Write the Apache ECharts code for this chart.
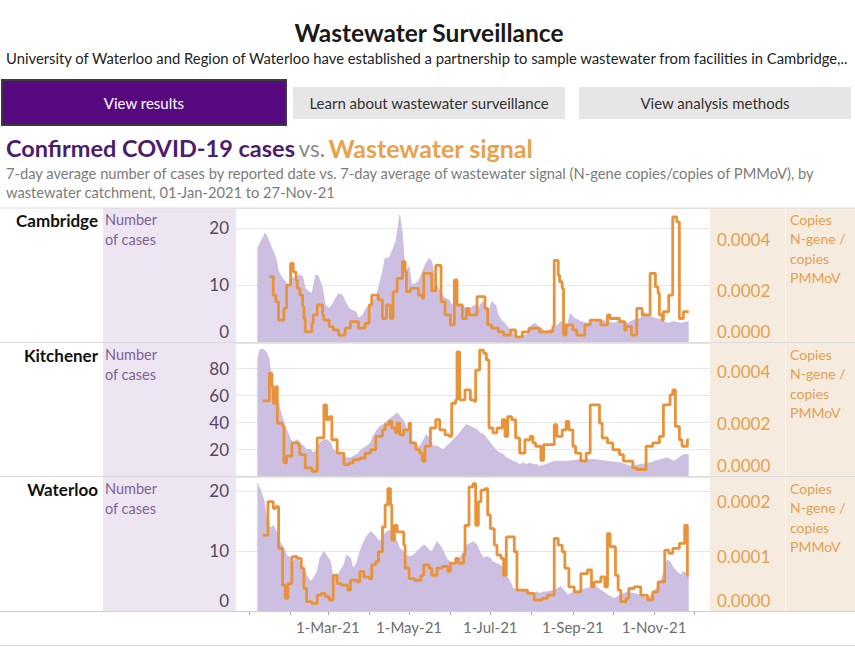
<!DOCTYPE html>
<html><head><meta charset="utf-8">
<script src="https://cdn.jsdelivr.net/npm/echarts@6/dist/echarts.min.js"></script>
<style>html,body{margin:0;padding:0;background:#fff}#c{width:855px;height:647px}</style>
</head><body><div id="c"></div>
<script>
// ---- data: [day of 2021 (0 = 1 Jan), value] ----
const cityNames = ['Cambridge', 'Kitchener', 'Waterloo'];
const monthNames = ['Jan','Feb','Mar','Apr','May','Jun','Jul','Aug','Sep','Oct','Nov','Dec'];
const labelMonths = [2, 4, 6, 8, 10];
const leftTicks = [10, 20, 10];
const rightTicks = [0.0002, 0.0002, 0.0001];

const cambridgeCases = [[6,16.4],[12,19.1],[15,17.6],[17,16.4],[20,14.7],[22,12.3],[25,11.2],[27,10.6],[30,9.7],[32,11.5],[35,10.9],[37,11.8],[40,11.5],[42,9.4],[45,8.8],[47,8.5],[50,11.8],[52,11.5],[55,9.4],[57,6.5],[60,5.9],[62,6.5],[65,7.7],[67,8.5],[70,8.2],[72,7.1],[75,5.9],[77,5.6],[80,5.3],[82,4.2],[85,4.7],[87,5.6],[90,6.5],[92,7.1],[95,7.7],[97,9.4],[100,12.3],[102,14.7],[105,14.7],[107,15.8],[110,17.6],[112,20.5],[113,22.3],[115,18.8],[117,12.3],[120,13.2],[122,10],[125,10.3],[127,10.6],[130,12.3],[132,13.5],[135,14.7],[137,14.1],[140,10.6],[142,9.4],[145,8.2],[147,7.7],[150,7.4],[152,6.5],[155,7.1],[157,6.5],[160,6.5],[162,5.9],[165,5.6],[167,6.2],[170,6.5],[172,5.9],[175,7.1],[177,6.5],[180,5.3],[182,7.1],[185,6.5],[187,4.7],[190,3.6],[192,3.3],[195,2.4],[197,1.8],[200,1.2],[202,0.6],[205,0.9],[207,1.2],[210,1.5],[212,3],[215,3.3],[217,2.6],[220,2.4],[222,1.8],[225,2.1],[229,2.4],[234,3.6],[239,3.0],[241,5.0],[244,4.2],[249,3.6],[254,3.3],[259,3.6],[264,3.9],[269,3.6],[274,3.3],[279,3.9],[284,3.3],[289,3.9],[294,4.2],[296,5.3],[299,4.7],[304,4.2],[309,3.9],[314,3.3],[319,3.6],[324,3.3],[330,3.6]];

// wastewater signal in units of 1e-4 N-gene copies / copies PMMoV
const cambridgeSignal = [[15,2.56],[18,1.83],[20,1.57],[22,0.86],[26,1.32],[28,2.23],[31,3.08],[33,2.75],[35,2.43],[36,2.10],[38,1.85],[40,1.39],[41,0.92],[42,0.4],[47,0.73],[48,1.06],[51,1.45],[55,1.06],[56,0.86],[60,0.6],[63,0.47],[67,0.27],[72,0.54],[76,0.8],[82,0.54],[87,0.73],[90,1.45],[92,1.84],[97,1.65],[100,0.92],[103,1.45],[106,0.92],[108,1.97],[111,2.49],[115,3.15],[117,2.75],[118,1.97],[121,2.10],[127,1.84],[130,1.71],[131,2.69],[137,2.0],[140,3.0],[144,1.58],[147,1.06],[151,0.67],[154,2.43],[156,1.45],[160,0.92],[163,1.32],[165,1.06],[171,1.78],[177,1.32],[179,0.67],[182,0.54],[187,0.4],[191,0.27],[196,0.47],[200,0.2],[205,0.4],[210,0.54],[218,0.4],[228,0.6],[229,3.2],[232,2.62],[233,2.36],[235,2.1],[236,0.27],[238,0.67],[243,0.47],[246,0.27],[252,0.67],[256,0.86],[264,0.67],[269,1.06],[271,0.92],[278,0.8],[282,0.47],[283,0.6],[287,0.27],[291,1.32],[295,1.06],[301,2.69],[305,2.16],[307,1.91],[308,1.06],[310,0.86],[311,1.19],[315,1.84],[318,4.9],[321,4.71],[323,0.92],[326,1.19],[330,1.19]];

const kitchenerCases = [[6,86.6],[8,94],[11,94],[13,91.6],[15,86.6],[16,76.7],[18,66.8],[21,59.3],[23,49.4],[26,39.5],[28,34.6],[31,27.1],[33,24.7],[36,27.1],[38,24.7],[41,22.2],[43,19.7],[46,19.7],[48,17.2],[51,19.7],[53,24.7],[56,27.1],[58,27.1],[61,24.7],[63,19.7],[66,17.2],[68,16],[71,14.7],[73,13.5],[76,13.5],[78,14.7],[81,16],[83,18.5],[86,20.9],[88,22.2],[91,24.7],[93,29.6],[96,34.6],[98,37],[101,38.3],[103,40.8],[106,43.2],[108,44.5],[111,46.9],[113,44.5],[116,40.8],[118,35.8],[121,29.6],[123,24.7],[126,22.2],[128,22.2],[131,27.1],[133,30.9],[136,27.1],[138,22.2],[141,22.2],[143,21],[146,19.7],[148,22.2],[151,24.7],[153,27.1],[156,29.6],[158,32.1],[161,35.8],[163,38.3],[166,37],[168,35.8],[171,34.6],[173,32.1],[176,30.9],[178,28.4],[181,24.7],[183,22.2],[186,18.5],[188,17.2],[191,16],[193,13.5],[196,12.3],[198,11],[201,9.8],[203,8.6],[206,9.8],[208,8.6],[211,9.8],[213,8.6],[216,8.6],[218,7.3],[223,8.6],[229,11],[239,11],[249,12.3],[259,12.3],[269,11],[279,9.8],[286,7.3],[294,8.6],[301,9.8],[309,12.3],[314,13.5],[319,11],[324,14.7],[326,16],[330,16]];

const kitchenerSignal = [[10,2.88],[15,3.94],[17,3.43],[18,2.79],[20,3.43],[21,2.03],[25,1.9],[26,0.5],[28,0.76],[32,1.27],[37,1.14],[38,0.82],[42,0.31],[47,0.18],[51,1.46],[56,2.73],[58,2.16],[60,2.28],[62,1.39],[66,0.88],[71,0.44],[75,0.5],[78,0.63],[83,0.69],[87,0.88],[91,1.01],[95,1.52],[100,1.77],[102,1.97],[105,2.09],[107,1.84],[110,1.65],[111,2.03],[113,1.58],[116,1.77],[120,2.03],[121,1.27],[125,1.01],[128,0.88],[130,0.57],[132,1.14],[136,1.84],[140,2.16],[143,1.77],[147,1.58],[150,1.52],[152,2.79],[155,2.92],[156,4.76],[158,2.92],[162,3.3],[166,2.92],[169,2.86],[170,4.06],[173,4.83],[176,4.7],[178,4.45],[180,1.84],[183,1.65],[186,1.84],[190,2.16],[192,1.52],[194,2.28],[197,2.16],[200,1.46],[203,0.88],[207,1.39],[211,1.52],[213,1.27],[215,1.14],[219,0.6],[221,1.2],[229,1.97],[231,1.52],[235,1.77],[238,2.09],[240,1.77],[243,1.14],[245,0.88],[249,0.57],[253,0.88],[256,2.73],[263,2.03],[265,1.46],[269,1.27],[273,1.01],[278,0.82],[281,0.57],[288,0.31],[291,0.25],[298,1.14],[303,1.27],[308,1.52],[311,2.73],[316,3.11],[318,3.3],[320,1.9],[323,1.39],[325,1.14],[329,1.39],[330,1.39]];

const waterlooCases = [[6,21.3],[8,20.4],[11,18.5],[13,15.4],[16,13.8],[18,14.3],[21,12.9],[23,11.6],[26,10.4],[28,9.3],[31,8.8],[33,8.2],[36,9.3],[38,7.7],[41,7.1],[43,6],[46,4.9],[48,5.4],[51,6.6],[53,8.8],[56,9.9],[58,9.3],[61,8.2],[63,5.4],[66,6],[68,6.6],[71,7.7],[73,9.3],[76,8.8],[78,7.1],[81,8.2],[83,9.9],[86,11.6],[88,12.4],[91,13.2],[93,12.9],[96,12.1],[98,11.6],[101,12.7],[103,13.2],[106,13.5],[108,12.7],[111,11.6],[113,10.4],[116,9.9],[118,9.3],[121,9.1],[123,9.3],[126,9.9],[128,10.4],[131,11],[133,10.7],[136,9.9],[138,10.2],[141,11.6],[143,11],[146,9.9],[148,8.8],[151,8.2],[153,7.9],[156,8.2],[158,8.8],[161,9.9],[163,11],[166,11.3],[168,11.6],[171,11],[173,9.9],[176,8.8],[178,9.1],[181,8.8],[183,8.2],[186,7.9],[188,7.7],[191,7.1],[193,6],[196,4.9],[198,3.8],[201,3.5],[203,3.2],[206,3.5],[208,3.2],[211,2.9],[213,2.9],[216,3.2],[218,2.9],[221,3.2],[224,3.2],[229,3.5],[234,4.1],[239,2.7],[244,3.2],[249,3.5],[254,3.8],[259,4.3],[264,3.5],[269,2.7],[274,2.1],[279,2.7],[284,3.2],[289,2.9],[294,2.7],[299,2.1],[304,3.2],[309,4.9],[314,8.5],[316,8.2],[319,7.1],[321,6.6],[324,6],[326,6.6],[330,6]];

const waterlooSignal = [[10,1.38],[14,1.99],[18,1.87],[20,1.9],[22,1.14],[25,0.47],[27,0.23],[29,0.5],[32,0.99],[36,0.96],[39,0.78],[41,0.41],[43,0.17],[47,0.14],[51,0.29],[54,0.32],[57,0.26],[60,0.2],[63,0.65],[66,0.5],[69,0.47],[74,0.38],[76,0.56],[81,0.53],[83,0.72],[86,0.62],[90,0.59],[92,0.84],[95,0.9],[97,1.08],[100,1.53],[102,1.93],[104,2.23],[106,1.93],[107,1.29],[109,1.56],[111,1.44],[116,1.2],[117,0.78],[120,0.59],[124,0.56],[129,0.65],[131,0.84],[135,0.78],[137,0.65],[141,0.78],[145,0.81],[149,0.72],[151,0.87],[155,0.96],[157,0.87],[161,1.02],[162,1.56],[165,2.26],[168,2.32],[170,1.56],[172,1.99],[174,2.2],[177,2.23],[179,1.75],[181,1.5],[184,1.2],[186,1.02],[189,0.96],[191,0.65],[193,1.35],[196,1.35],[199,1.08],[201,0.38],[209,0.32],[214,0.2],[220,0.23],[224,0.29],[229,1.32],[232,1.2],[235,1.08],[237,0.78],[240,0.44],[244,0.35],[249,0.68],[254,0.75],[257,0.44],[259,0.53],[264,0.62],[267,0.44],[269,1.41],[271,1.17],[275,0.65],[277,0.38],[279,0.17],[283,0.23],[285,0.41],[289,0.44],[294,0.29],[299,0.2],[303,0.35],[307,0.53],[312,1.11],[315,1.05],[318,1.14],[323,1.23],[327,1.56],[329,0.65],[330,0.65]];

// ---- build ----
const FONT = 'Lato, "Open Sans", sans-serif';
const ORANGE = '#e8923a';
const casesData = [cambridgeCases, kitchenerCases, waterlooCases];
const signalData = [cambridgeSignal, kitchenerSignal, waterlooSignal];
const leftMax = [23.5, 98.9, 22.33];
const rightMax = [0.000525, 0.00051, 0.000244];
const panels = [{top:208,h:134},{top:343,h:133},{top:477,h:134}];

const START = Date.UTC(2020, 11, 22);
const OFF = 10; // index of 2021-01-01
const cats = [];
for (let i = 0; i < 357; i++) {
  const d = new Date(START + i * 86400000);
  cats.push(d.toISOString().slice(0, 10));
}
const isFirst = (v) => v.slice(8) === '01';
const isLabelDay = (v) => isFirst(v) && labelMonths.indexOf(+v.slice(5,7) - 1) >= 0;

const grids = [], xAxes = [], yAxes = [], series = [];
function isTick(v, step) { return Math.abs(v / step - Math.round(v / step)) < 1e-6; }

panels.forEach((p, i) => {
  grids.push({left: 236, right: 145, top: p.top, height: p.h, containLabel: false});
  const last = i === 2;
  xAxes.push({
    type: 'category', gridIndex: i, data: cats, boundaryGap: false, show: last,
    axisLine: {show: last, lineStyle: {color: '#cfcfcf'}},
    axisTick: {show: last, length: 4, lineStyle: {color: '#a8a8a8'}, interval: (idx, v) => isFirst(v)},
    axisLabel: {show: last, interval: (idx, v) => isLabelDay(v), color: '#6e6e6e', fontSize: 15, fontFamily: FONT, margin: 8,
      formatter: (v) => '1-' + monthNames[+v.slice(5,7) - 1] + '-' + v.slice(2,4)},
    splitLine: {show: false}
  });
  const lt = leftTicks[i], rt = rightTicks[i];
  const leftColor = '#544a60';
  yAxes.push({
    type: 'value', gridIndex: i, position: 'left', min: 0, max: leftMax[i], interval: lt,
    axisLine: {show: false}, axisTick: {show: false},
    splitLine: {show: true, lineStyle: {color: '#e6e6e6', width: 1}},
    axisLabel: {color: leftColor, fontSize: 17, fontFamily: FONT, margin: 7,
      formatter: (v) => {
        if (v === 0) return i === 1 ? '' : '{z|0}';
        return isTick(v, lt) ? String(v) : '';
      },
      rich: {z: {color: leftColor, fontSize: 17, fontFamily: FONT, padding: [0, 0, 22, 0]}}
    }
  });
  yAxes.push({
    type: 'value', gridIndex: i, position: 'right', min: 0, max: rightMax[i], interval: rt,
    axisLine: {show: false}, axisTick: {show: false}, splitLine: {show: false},
    axisLabel: {color: '#e3a04f', fontSize: 17, fontFamily: FONT, margin: 7,
      formatter: (v) => {
        if (v === 0) return '{z|0.0000}';
        return isTick(v, rt) ? v.toFixed(4) : '';
      },
      rich: {z: {color: '#e3a04f', fontSize: 17, fontFamily: FONT, padding: [0, 0, 22, 0]}}
    }
  });
  series.push({
    type: 'line', xAxisIndex: i, yAxisIndex: 2 * i, symbol: 'none', silent: true,
    data: casesData[i].map(([d, v]) => [d + OFF, v]),
    lineStyle: {width: 0.6, color: '#c6b4dc'}, areaStyle: {color: '#cdbfe1', opacity: 1}, z: 2
  });
  series.push({
    type: 'line', step: 'end', xAxisIndex: i, yAxisIndex: 2 * i + 1, symbol: 'none', silent: true,
    data: signalData[i].map(([d, v]) => [d + OFF, v * 1e-4]),
    lineStyle: {width: 2.8, color: ORANGE}, z: 3
  });
});

function txt(text, x, y, o) {
  o = o || {};
  return {type: 'text', z: 50, silent: true, style: Object.assign({
    text: text, x: x, y: y, fill: '#222', fontSize: 14, fontFamily: FONT,
    align: o.align || 'left', textAlign: o.align || 'left', verticalAlign: 'middle', textVerticalAlign: 'middle'
  }, o)};
}
function rect(x, y, w, h, fill, extra) {
  return {type: 'rect', z: -10, silent: true, shape: {x: x, y: y, width: w, height: h}, style: Object.assign({fill: fill}, extra || {})};
}
function hline(y, x1, x2, color) {
  return {type: 'line', z: 40, silent: true, shape: {x1: x1, y1: y, x2: x2, y2: y}, style: {stroke: color, lineWidth: 1}};
}

const g = [];
g.push(txt('Wastewater Surveillance', 429, 32, {align: 'center', fontSize: 24.5, fontWeight: 'bold', fill: '#1a1a1a'}));
g.push(txt('University of Waterloo and Region of Waterloo have established a partnership to sample wastewater from facilities in Cambridge,..', 6, 58, {fontSize: 14.8, fill: '#222'}));
g.push(Object.assign(rect(2, 80, 284, 45, '#570a80', {stroke: '#3b3b3b', lineWidth: 2}), {z: 10}));
g.push(Object.assign(rect(293, 87, 272, 32, '#e6e6e6'), {z: 10}));
g.push(Object.assign(rect(579, 87, 272, 32, '#e6e6e6'), {z: 10}));
g.push(txt('View results', 144, 103, {align: 'center', fill: '#ffffff', fontSize: 15}));
g.push(txt('Learn about wastewater surveillance', 429, 103, {align: 'center', fill: '#333', fontSize: 15}));
g.push(txt('View analysis methods', 715, 103, {align: 'center', fill: '#333', fontSize: 15}));
g.push(txt('{a|Confirmed COVID-19 cases} {b|vs.} {c|Wastewater signal}', 6, 148, {
  rich: {
    a: {fontSize: 23.5, fontWeight: 'bold', fill: '#4b1d6b', fontFamily: FONT},
    b: {fontSize: 22.5, fill: '#8a8a8a', fontFamily: FONT},
    c: {fontSize: 25, fontWeight: 'bold', fill: '#e8a24c', fontFamily: FONT}
  }
}));
g.push(txt('7-day average number of cases by reported date vs. 7-day average of wastewater signal (N-gene copies/copies of PMMoV), by', 6, 173, {fontSize: 14.7, fill: '#7b7b7b'}));
g.push(txt('wastewater catchment, 01-Jan-2021 to 27-Nov-21', 6, 192, {fontSize: 14.7, fill: '#7b7b7b'}));

panels.forEach((p, i) => {
  g.push(rect(103, p.top, 133, p.h, '#ede6f2'));
  g.push(rect(710, p.top, 145, p.h, '#f5ecdf'));
  g.push({type: 'line', z: -5, silent: true, shape: {x1: 785.5, y1: p.top, x2: 785.5, y2: p.top + p.h}, style: {stroke: '#fbf6ee', lineWidth: 1}});
  g.push(txt(cityNames[i], 98, p.top + 12, {align: 'right', fontSize: 17, fontWeight: 'bold', fill: '#111'}));
  g.push(txt('Number', 105, p.top + 11, {fontSize: 14.5, fill: '#7e6394'}));
  g.push(txt('of cases', 105, p.top + 31, {fontSize: 14.5, fill: '#7e6394'}));
  ['Copies', 'N-gene /', 'copies', 'PMMoV'].forEach((t, k) => {
    g.push(txt(t, 790, p.top + 11 + k * 19.5, {fontSize: 14, fill: '#e3a04f'}));
  });
});
[208, 342.5, 476.5].forEach(y => g.push(hline(y, 0, 855, '#dadada')));
g.push(hline(611.5, 0, 855, '#cfcfcf'));
g.push(hline(645.5, 0, 855, '#d6d6d6'));

const chart = echarts.init(document.getElementById('c'), null, {renderer: 'svg', width: 855, height: 647});
chart.setOption({
  animation: false,
  backgroundColor: '#ffffff',
  grid: grids, xAxis: xAxes, yAxis: yAxes, series: series,
  graphic: {elements: g}
});
</script></body></html>
